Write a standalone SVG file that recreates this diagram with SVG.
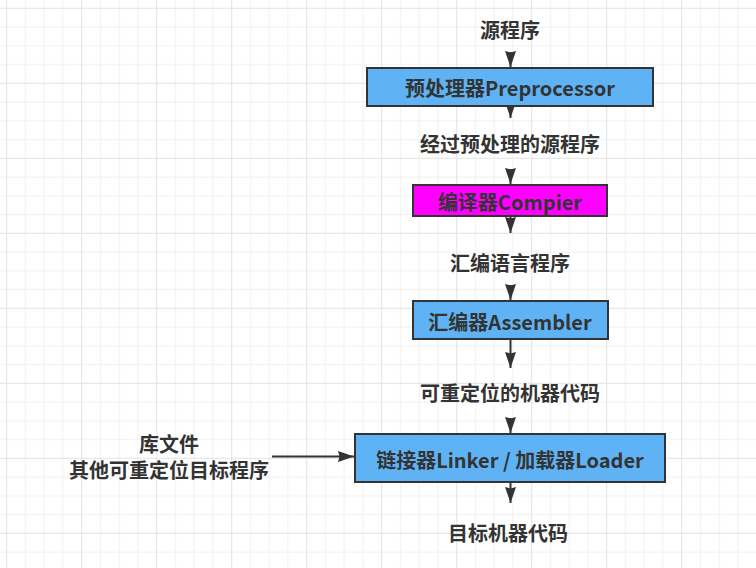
<svg xmlns="http://www.w3.org/2000/svg" width="756" height="568" viewBox="0 0 756 568">
  <defs>
    <pattern id="grid" patternUnits="userSpaceOnUse" x="6.2" y="7.8" width="75" height="75">
      <path d="M19.25 0V75M38 0V75M56.75 0V75M0 19.25H75M0 38H75M0 56.75H75" stroke="#f0f0f0" stroke-width="1" fill="none"/>
      <path d="M0.5 0V75M0 0.5H75" stroke="#e2e2e2" stroke-width="1" fill="none"/>
    </pattern>
    <marker id="arrow" markerUnits="userSpaceOnUse" markerWidth="16" markerHeight="11" refX="16" refY="5.5" orient="auto" viewBox="0 0 16 11">
      <path d="M0 0L16 5.5L0 11L1.5 5.5Z" fill="#333"/>
    </marker>
  </defs>
  <style>
    .box { stroke: #333333; stroke-width: 2; }
    .blue { fill: #5fb3f5; }
    .magenta { fill: #ff00ff; }
    .t { font-family: "Noto Sans CJK SC", "Noto Sans", sans-serif; font-weight: bold; font-size: 20px; fill: #333333; text-anchor: middle; dominant-baseline: central; }
    .conn { stroke: #333333; stroke-width: 2; fill: none; }
  </style>
  <rect width="756" height="568" fill="#ffffff"/>
  <rect width="756" height="568" fill="url(#grid)"/>

  <g id="connectors">
    <path class="conn" d="M510.5 52V67" marker-end="url(#arrow)"/>
    <path class="conn" d="M510.5 106V118" marker-end="url(#arrow)"/>
    <path class="conn" d="M510.5 169V184" marker-end="url(#arrow)"/>
    <path class="conn" d="M510.5 216V233" marker-end="url(#arrow)"/>
    <path class="conn" d="M510.5 285V300" marker-end="url(#arrow)"/>
    <path class="conn" d="M510.5 339V368" marker-end="url(#arrow)"/>
    <path class="conn" d="M510.5 418V433" marker-end="url(#arrow)"/>
    <path class="conn" d="M510.5 483V503" marker-end="url(#arrow)"/>
    <path class="conn" d="M272 456.5H354" marker-end="url(#arrow)"/>
  </g>

  <g id="src">
    <text class="t" x="510" y="29">源程序</text>
  </g>
  <g id="preprocessor">
    <rect class="box blue" x="367" y="68" width="286" height="38"/>
    <text class="t" x="510" y="87">预处理器Preprocessor</text>
  </g>
  <g id="preprocessed">
    <text class="t" x="510" y="143">经过预处理的源程序</text>
  </g>
  <g id="compiler">
    <rect class="box magenta" x="413" y="185" width="194" height="31"/>
    <text class="t" x="510" y="201">编译器Compier</text>
  </g>
  <g id="asm">
    <text class="t" x="510" y="262">汇编语言程序</text>
  </g>
  <g id="assembler">
    <rect class="box blue" x="413" y="301" width="195" height="38"/>
    <text class="t" x="510" y="321">汇编器Assembler</text>
  </g>
  <g id="relocatable">
    <text class="t" x="510" y="392">可重定位的机器代码</text>
  </g>
  <g id="libs">
    <text class="t" x="169" y="443">库文件</text>
    <text class="t" x="169" y="469">其他可重定位目标程序</text>
  </g>
  <g id="linker">
    <rect class="box blue" x="355" y="434" width="310" height="48"/>
    <text class="t" x="510" y="459">链接器Linker / 加载器Loader</text>
  </g>
  <g id="target">
    <text class="t" x="508" y="532">目标机器代码</text>
  </g>
</svg>
